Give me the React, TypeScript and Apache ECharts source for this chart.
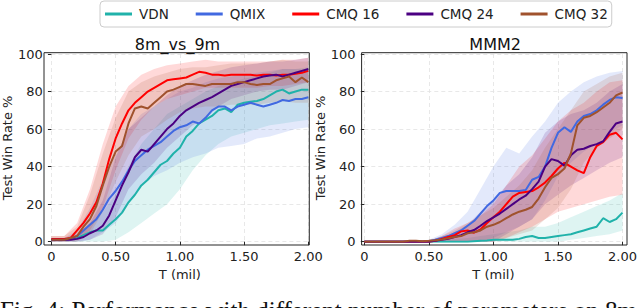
import React, { useEffect, useRef } from "react";
import * as echarts from "echarts";

// ---------- data ----------
const NAMES = ["VDN", "QMIX", "CMQ 16", "CMQ 24", "CMQ 32"];
const COLORS = ["#20b2aa", "#4169e1", "#ff0000", "#4b0082", "#a0522d"];
const PANEL_TITLES = ["8m_vs_9m", "MMM2"];
const X_TICKS = [0, 0.5, 1.0, 1.5, 2.0];

// mean curves, T (mil) step 0.05
const T_MEAN = [
  0, 0.05, 0.1, 0.15, 0.2, 0.25, 0.3, 0.35, 0.4, 0.45, 0.5, 0.55, 0.6, 0.65, 0.7, 0.75, 0.8, 0.85, 0.9, 0.95,
  1.0, 1.05, 1.1, 1.15, 1.2, 1.25, 1.3, 1.35, 1.4, 1.45, 1.5, 1.55, 1.6, 1.65, 1.7, 1.75, 1.8, 1.85, 1.9, 1.95, 2.0,
];
// band bounds, T (mil) step 0.1
const T_BAND = [0, 0.1, 0.2, 0.3, 0.4, 0.5, 0.6, 0.7, 0.8, 0.9, 1.0, 1.1, 1.2, 1.3, 1.4, 1.5, 1.6, 1.7, 1.8, 1.9, 2.0];

// 8m_vs_9m
const vdnL = [1, 1, 1, 1.5, 2, 3.5, 5, 6, 6, 9, 12, 15.5, 21, 25, 30, 33, 37, 41, 43, 47, 50, 56, 59, 63, 65, 67, 70, 71, 69, 73, 74, 74.5, 75, 76, 78, 80, 81, 79, 80, 81, 81];
const qmixL = [1, 1, 1, 1.5, 3, 6, 9, 12, 17, 23, 27, 32, 38, 43, 46, 49, 51, 53, 56, 59, 61, 62, 64, 63, 66, 70, 72, 72, 70, 72, 73, 74, 73, 72, 73, 74, 75.5, 75, 76, 76, 77];
const cmq16L = [1.5, 1.5, 1.5, 2, 6, 10, 15, 21, 31, 44, 55, 63, 70, 74, 77, 80, 82, 84, 86, 86.5, 87, 87.5, 89, 90.5, 90, 89, 89, 88.5, 89, 89, 89, 89, 88.5, 89, 89, 88.5, 89, 89, 89.5, 90, 91];
const cmq24L = [1, 1, 1, 1, 1.5, 2.5, 4.5, 6, 8.5, 14, 22, 30, 37, 45, 49, 48, 52, 56, 60, 63, 67, 70, 72, 74, 75.5, 77, 79, 81, 83, 84, 85, 86, 87, 88, 88.5, 89, 88, 89, 90, 91, 92];
const cmq32L = [1, 1, 1, 2, 3, 8, 12, 19, 30, 40, 48, 51, 63, 71, 72, 71, 74, 77, 80, 81, 82.5, 84, 84, 83.5, 83, 84, 84, 84, 84, 85, 85, 84, 83.5, 84, 84, 86, 87, 88, 85, 87.5, 85];

const vdnLlo = [0, 0, 0, 0, 0, 1, 5, 10, 15, 20, 28, 38, 46, 52, 56, 58, 60, 62, 63, 64, 65];
const vdnLhi = [2, 2, 4, 10, 16, 25, 40, 52, 60, 68, 72, 76, 80, 83, 85, 87, 88, 90, 92, 92, 93];
const qmixLlo = [0, 0, 0, 1, 5, 10, 20, 30, 35, 38, 42, 45, 47, 50, 51, 52, 55, 56, 58, 60, 61];
const qmixLhi = [2, 2, 6, 18, 33, 46, 60, 68, 72, 76, 80, 82, 85, 87, 88, 89, 90, 91, 92, 92, 92];
const cmq16Llo = [0, 0, 1, 6, 18, 38, 55, 65, 72, 76, 78, 80, 82, 82, 82, 82, 82, 83, 83, 84, 85];
const cmq16Lhi = [3, 3, 10, 28, 52, 72, 83, 89, 92, 94, 95, 96, 97, 96, 96, 96, 96, 96, 97, 97, 98];
const cmq24Llo = [0, 0, 0, 1, 4, 13, 28, 36, 42, 50, 56, 62, 66, 72, 76, 78, 80, 81, 81, 83, 85];
const cmq24Lhi = [2, 2, 4, 10, 22, 45, 60, 66, 72, 78, 83, 86, 89, 91, 93, 94, 95, 96, 96, 97, 98];
const cmq32Llo = [0, 0, 0, 4, 16, 32, 46, 56, 60, 65, 69, 71, 72, 72, 73, 73, 73, 74, 75, 74, 74];
const cmq32Lhi = [3, 3, 8, 25, 47, 66, 80, 85, 88, 90, 92, 93, 93, 94, 95, 95, 95, 96, 97, 96, 96];

// MMM2
const vdnR = [0, 0, 0, 0, 0, 0, 0, 0, 0, 0, 0, 0, 0, 0, 0, 0, 0, 0.3, 0.5, 0.7, 1, 1, 1, 1, 1.5, 2.5, 3, 2, 2, 2.5, 3, 3.5, 4, 5, 6, 7, 8, 12.5, 10.5, 12, 15.5];
const qmixR = [0, 0, 0, 0, 0, 0, 0, 0, 0, 0, 0.3, 1, 2, 3, 4.5, 6, 8.5, 11, 15, 19, 22, 26, 27, 27, 27, 27.5, 33, 34.5, 40, 50, 58, 61, 58.5, 64, 67, 68, 70, 73, 75.5, 77, 76.5];
const cmq16R = [0, 0, 0, 0, 0, 0, 0, 0, 0, 0, 0, 0.5, 1.5, 2.5, 3.5, 5.5, 6, 4.8, 6.5, 10, 13, 16, 20, 24, 26, 26.5, 27, 29, 31.5, 35, 39, 42, 40, 38, 36.5, 45, 51, 53, 57, 58, 54.5];
const cmq24R = [0, 0, 0, 0, 0, 0, 0, 0, 0, 0, 0, 0.5, 1, 1.5, 2.5, 3.5, 5, 6.2, 8.5, 11, 13, 15, 17.5, 20, 22.5, 24.5, 28, 32, 40, 44, 43, 40.5, 46, 49, 49.5, 51, 52, 53.5, 58.5, 63, 64];
const cmq32R = [0, 0, 0, 0, 0, 0, 0, 0.5, 0.5, 0.3, 0.5, 0.8, 1.2, 1.8, 2.5, 3, 4.5, 5, 6, 8, 9, 10.5, 12.5, 14.5, 16, 17, 18.5, 23, 29, 34, 36, 39, 47, 62, 66, 67, 69, 71.5, 74, 78, 79.5];

const vdnRlo = [0, 0, 0, 0, 0, 0, 0, 0, 0, 0, 0, 0, 0, 0, 0, 0, 1, 2, 3, 4, 6];
const vdnRhi = [0.5, 0.5, 0.5, 0.5, 0.5, 0.5, 1, 1.5, 2, 3, 4, 5, 6, 8, 8, 10, 13, 16, 19, 22, 26];
const qmixRlo = [0, 0, 0, 0, 0, 0, 0, 0, 0, 0, 2, 5, 8, 12, 22, 35, 42, 48, 52, 58, 62];
const qmixRhi = [0.5, 0.5, 0.5, 0.5, 0.5, 1, 4, 9, 16, 28, 40, 50, 47, 56, 64, 74, 80, 85, 88, 90, 91];
const cmq16Rlo = [0, 0, 0, 0, 0, 0, 0, 0, 0, 0, 0, 2, 5, 8, 12, 16, 18, 20, 22, 24, 25];
const cmq16Rhi = [0.5, 0.5, 0.5, 0.5, 0.5, 0.5, 3, 7, 10, 14, 20, 30, 40, 46, 55, 64, 70, 74, 80, 85, 86];
const cmq24Rlo = [0, 0, 0, 0, 0, 0, 0, 0, 0, 0, 0, 4, 8, 12, 20, 25, 30, 34, 38, 42, 45];
const cmq24Rhi = [0.5, 0.5, 0.5, 0.5, 0.5, 0.5, 2, 5, 9, 16, 22, 30, 36, 45, 58, 64, 68, 70, 74, 80, 84];
const cmq32Rlo = [0, 0, 0, 0, 0, 0, 0, 0, 0, 0, 0, 2, 4, 6, 12, 18, 28, 42, 50, 55, 60];
const cmq32Rhi = [0.5, 0.5, 0.5, 0.5, 0.5, 0.5, 3, 6, 10, 14, 18, 24, 30, 38, 50, 60, 70, 80, 84, 88, 90];

const MEANS = [
  [vdnL, qmixL, cmq16L, cmq24L, cmq32L],
  [vdnR, qmixR, cmq16R, cmq24R, cmq32R],
];
const LOWS = [
  [vdnLlo, qmixLlo, cmq16Llo, cmq24Llo, cmq32Llo],
  [vdnRlo, qmixRlo, cmq16Rlo, cmq24Rlo, cmq32Rlo],
];
const HIGHS = [
  [vdnLhi, qmixLhi, cmq16Lhi, cmq24Lhi, cmq32Lhi],
  [vdnRhi, qmixRhi, cmq16Rhi, cmq24Rhi, cmq32Rhi],
];

const CAPTION = "Fig. 4: Performance with different number of parameters on 8m_vs_9m and MMM2.";

// ---------- layout ----------
const FONT = "DejaVu Sans";
const GRIDS = [
  { left: 46.7, top: 54, width: 261.6, height: 187.7 },
  { left: 364.3, top: 54, width: 261.7, height: 187.7 },
];
const PAD_X = 2.7; // frame offset from data extremes (left/right)
const PAD_Y = 3.3; // frame offset (bottom)
const PAD_TOP = 1.3;

function buildOption() {
  const series: any[] = [];
  for (let p = 0; p < 2; p++) {
    for (let k = 0; k < NAMES.length; k++) {
      const lo = LOWS[p][k];
      const hi = HIGHS[p][k];
      const color = COLORS[k];
      series.push({
        type: "custom",
        xAxisIndex: p,
        yAxisIndex: p,
        silent: true,
        z: 1,
        clip: true,
        data: T_BAND.map((t, i) => [t, lo[i], hi[i]]),
        encode: { x: 0, y: [1, 2] },
        renderItem: (params: any, api: any) => {
          if (params.dataIndex !== 0) return null;
          const pts: number[][] = [];
          for (let i = 0; i < T_BAND.length; i++) pts.push(api.coord([T_BAND[i], hi[i]]));
          for (let i = T_BAND.length - 1; i >= 0; i--) pts.push(api.coord([T_BAND[i], lo[i]]));
          return {
            type: "polygon",
            shape: { points: pts },
            style: { fill: color, opacity: 0.15 },
          };
        },
      });
    }
    for (let k = 0; k < NAMES.length; k++) {
      const m = MEANS[p][k];
      series.push({
        type: "line",
        name: NAMES[k],
        xAxisIndex: p,
        yAxisIndex: p,
        z: 3,
        showSymbol: false,
        symbol: "none",
        data: T_MEAN.map((t, i) => [t, m[i]]),
        lineStyle: { color: COLORS[k], width: 2 },
        itemStyle: { color: COLORS[k] },
      });
    }
  }

  const axisText = { fontFamily: FONT, fontSize: 13, color: "#222" };
  const graphic: any[] = [];
  for (let p = 0; p < 2; p++) {
    const g = GRIDS[p];
    graphic.push({
      type: "rect",
      silent: true,
      z: 100,
      shape: {
        x: g.left - PAD_X,
        y: g.top - PAD_TOP,
        width: g.width + PAD_X + 1,
        height: g.height + PAD_TOP + PAD_Y,
      },
      style: { fill: "none", stroke: "#262626", lineWidth: 1 },
    });
    graphic.push({
      type: "text",
      silent: true,
      x: g.left + g.width / 2,
      y: 44,
      style: {
        text: PANEL_TITLES[p],
        font: `16px "${FONT}"`,
        fill: "#111",
        textAlign: "center",
        textVerticalAlign: "middle",
      },
    });
  }
  graphic.push({
    type: "text",
    silent: true,
    x: 0,
    y: 298,
    style: {
      text: CAPTION,
      font: '25px "Liberation Serif"',
      fill: "#111",
      textAlign: "left",
      textVerticalAlign: "top",
    },
  });

  return {
    animation: false,
    backgroundColor: "#ffffff",
    legend: {
      data: NAMES,
      left: 100,
      top: 1,
      icon: "rect",
      itemWidth: 27,
      itemHeight: 3,
      itemGap: 27,
      padding: [6, 4, 6, 5],
      borderColor: "#cccccc",
      borderWidth: 1,
      borderRadius: 4,
      backgroundColor: "#ffffff",
      textStyle: { fontFamily: FONT, fontSize: 13.5, color: "#222", padding: [0, 0, 0, 2] },
    },
    grid: GRIDS.map((g) => ({ ...g, containLabel: false })),
    xAxis: [0, 1].map((p) => ({
      gridIndex: p,
      type: "value",
      min: X_TICKS[0],
      max: X_TICKS[X_TICKS.length - 1],
      interval: 0.5,
      offset: PAD_Y,
      axisLine: { show: false },
      axisTick: { show: true, length: 3.5, lineStyle: { color: "#262626", width: 1 } },
      axisLabel: {
        ...axisText,
        margin: 5,
        formatter: (v: number) => (v === 0 ? "0" : v.toFixed(2)),
      },
      splitLine: { show: true, lineStyle: { type: [4, 3], color: "#e2e2e2", width: 0.8 } },
      name: "T (mil)",
      nameLocation: "middle",
      nameGap: 21.5,
      nameTextStyle: axisText,
    })),
    yAxis: [0, 1].map((p) => ({
      gridIndex: p,
      type: "value",
      min: 0,
      max: 100,
      interval: 20,
      offset: PAD_X,
      axisLine: { show: false },
      axisTick: { show: true, length: 3.5, lineStyle: { color: "#262626", width: 1 } },
      axisLabel: { ...axisText, margin: 6 },
      splitLine: { show: true, lineStyle: { type: [4, 3], color: "#e2e2e2", width: 0.8 } },
      name: "Test Win Rate %",
      nameLocation: "middle",
      nameGap: 25,
      nameTextStyle: axisText,
    })),
    graphic,
    series,
  };
}

export default function App() {
  const ref = useRef<HTMLDivElement>(null);
  useEffect(() => {
    if (!ref.current) return;
    const chart = echarts.init(ref.current, undefined, { renderer: "svg" });
    chart.setOption(buildOption() as any);
    return () => chart.dispose();
  }, []);
  return (
    <div
      ref={ref}
      style={{ position: "absolute", left: 0, top: 0, width: 640, height: 308, background: "#fff" }}
    />
  );
}
